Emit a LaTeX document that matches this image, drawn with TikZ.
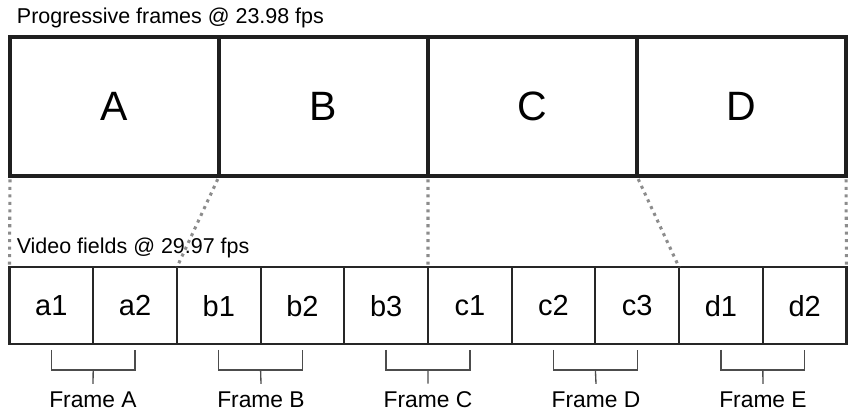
\documentclass[tikz,border=0pt]{standalone}
\usepackage{fontspec}
\setmainfont{Liberation Sans}
\usetikzlibrary{positioning,calc}

\begin{document}
\begin{tikzpicture}[x=0.75pt, y=-0.75pt,
  frame/.style={draw=black!88, line width=3pt, minimum width=156.75pt, minimum height=104.6pt,
    inner sep=0pt, outer sep=0pt, font=\fontsize{30.75}{36}\selectfont},
  field/.style={draw=black!85, line width=1.6pt, minimum width=62.78pt, minimum height=57.5pt,
    inner sep=0pt, outer sep=0pt, font=\fontsize{21.75}{26}\selectfont},
  heading/.style={anchor=base west, inner sep=0pt, font=\fontsize{16.1}{19}\selectfont},
  link/.style={draw=black!45, line width=2.3pt, dash pattern=on 2.3pt off 3.3pt},
  bracket/.style={draw=black!70, line width=1pt},
  caption/.style={inner sep=6pt, font=\fontsize{17.1}{20}\selectfont}]
  \useasboundingbox (0,0) rectangle (848,413);
  % progressive frames
  \node[heading] (progtitle) at (16.7,23.3) {Progressive frames @ 23.98 fps};
  \node[frame, anchor=north west] (fA) at (10,37) {A};
  \node[frame, right=0pt of fA] (fB) {B};
  \node[frame, right=0pt of fB] (fC) {C};
  \node[frame, right=0pt of fC] (fD) {D};
  % video fields
  \node[heading] (fieldtitle) at (16.5,253.7) {Video fields @ 29.97 fps};
  \foreach \n [count=\i from 0] in {a1,a2,b1,b2,b3,c1,c2,c3,d1,d2}
    \node[field, anchor=north west] (\n) at (9.5+83.7*\i,267.3) {\n};
  % cadence links
  \draw[link, shorten <=2.2pt] (fA.south west) -- (a1.north west);
  \draw[link, shorten <=2.2pt] (fA.south east) -- (b1.north west);
  \draw[link, shorten <=2.2pt] (fB.south east) -- (c1.north west);
  \draw[link, shorten <=2.2pt] (fC.south east) -- (d1.north west);
  \draw[link, shorten <=2.2pt] (fD.south east) -- (d2.north east);
  % field pairs
  \foreach \p/\q/\f/\x in {a1/a2/A/93, b1/b2/B/261, b3/c1/C/428, c2/c3/D/596, d1/d2/E/763} {
    \node[caption] (cap\f) at (\x,400) {Frame \f};
    \draw[bracket] ($(\p.south)+(0,6)$) -- ++(0,20) -| ($(\q.south)+(0,6)$);
    \draw[bracket] ($(\p.south)!0.5!(\q.south)+(0,26)$) -- (cap\f.north);
  }
\end{tikzpicture}
\end{document}
